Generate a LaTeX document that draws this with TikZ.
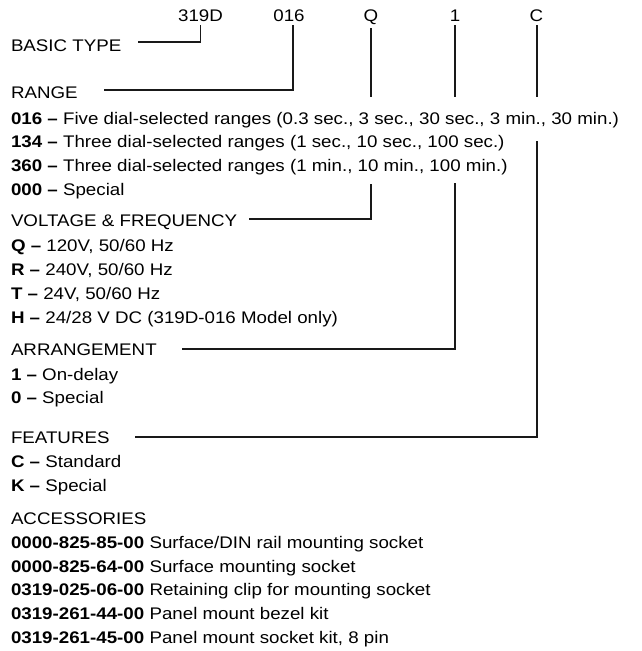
\documentclass[tikz,border=0pt]{standalone}
\usepackage{fontspec}
\setmainfont{Liberation Sans}[FakeStretch=1.115]
\newcommand{\dfont}{\fontsize{16.8}{20}\selectfont}
\begin{document}
\begin{tikzpicture}[x=1pt,y=-1pt,
  every node/.style={inner sep=0pt, outer sep=0pt, font=\dfont, text=black},
  lbl/.style={anchor=base west},
  code/.style={anchor=base},
  conn/.style={line width=1.1pt, draw=black!90}]
\useasboundingbox (0,0) rectangle (641,651);

% code letters on top
\node[code] (c319) at (200.5,21) {319D};
\node[code] (c016) at (289,21) {016};
\node[code] (cQ) at (371,21) {Q};
\node[code] (c1) at (455,21) {1};
\node[code] (cC) at (536.5,21) {C};

% left column
\def\lx{11}
\node[lbl] (basic) at (\lx,51) {BASIC TYPE};
\node[lbl] (range) at (\lx,98.5) {RANGE};
\node[lbl] (r016) at (\lx,124) {\textbf{016 –} Five dial-selected ranges (0.3 sec., 3 sec., 30 sec., 3 min., 30 min.)};
\node[lbl] (r134) at (\lx,147.5) {\textbf{134 –} Three dial-selected ranges (1 sec., 10 sec., 100 sec.)};
\node[lbl] (r360) at (\lx,171.5) {\textbf{360 –} Three dial-selected ranges (1 min., 10 min., 100 min.)};
\node[lbl] (r000) at (\lx,195) {\textbf{000 –} Special};
\node[lbl] (volt) at (\lx,226) {VOLTAGE \& FREQUENCY};
\node[lbl] (vQ) at (\lx,251) {\textbf{Q –} 120V, 50/60 Hz};
\node[lbl] (vR) at (\lx,275) {\textbf{R –} 240V, 50/60 Hz};
\node[lbl] (vT) at (\lx,299) {\textbf{T –} 24V, 50/60 Hz};
\node[lbl] (vH) at (\lx,323) {\textbf{H –} 24/28 V DC (319D-016 Model only)};
\node[lbl] (arr) at (\lx,355) {ARRANGEMENT};
\node[lbl] (a1) at (\lx,380) {\textbf{1 –} On-delay};
\node[lbl] (a0) at (\lx,403) {\textbf{0 –} Special};
\node[lbl] (feat) at (\lx,443) {FEATURES};
\node[lbl] (fC) at (\lx,467) {\textbf{C –} Standard};
\node[lbl] (fK) at (\lx,491) {\textbf{K –} Special};
\node[lbl] (acc) at (\lx,524) {ACCESSORIES};
\node[lbl] (x1) at (\lx,548) {\textbf{0000-825-85-00} Surface/DIN rail mounting socket};
\node[lbl] (x2) at (\lx,572) {\textbf{0000-825-64-00} Surface mounting socket};
\node[lbl] (x3) at (\lx,595) {\textbf{0319-025-06-00} Retaining clip for mounting socket};
\node[lbl] (x4) at (\lx,619) {\textbf{0319-261-44-00} Panel mount bezel kit};
\node[lbl] (x5) at (\lx,643) {\textbf{0319-261-45-00} Panel mount socket kit, 8 pin};

% connector coordinates
\coordinate (basicL) at (137.5,42);
\coordinate (rangeL) at (104,90);
\coordinate (qA) at (371,97);
\coordinate (qB) at (371,184);
\coordinate (voltL) at (249,219);
\coordinate (oA) at (455,97);
\coordinate (oB) at (455,183);
\coordinate (arrL) at (182,349);
\coordinate (fA) at (537,97);
\coordinate (fB) at (537,141);
\coordinate (featL) at (135,437);

% connectors
\draw[conn] ([yshift=-4pt]c319.south) |- (basicL);
\draw[conn] ([xshift=4pt,yshift=-4pt]c016.south) |- (rangeL);
\draw[conn] ([yshift=-4pt]cQ.south) -- (qA);
\draw[conn] (qB) |- (voltL);
\draw[conn] ([yshift=-4pt]c1.south) -- (oA);
\draw[conn] (oB) |- (arrL);
\draw[conn] ([xshift=0.5pt,yshift=-4pt]cC.south) -- (fA);
\draw[conn] (fB) |- (featL);
\end{tikzpicture}
\end{document}
